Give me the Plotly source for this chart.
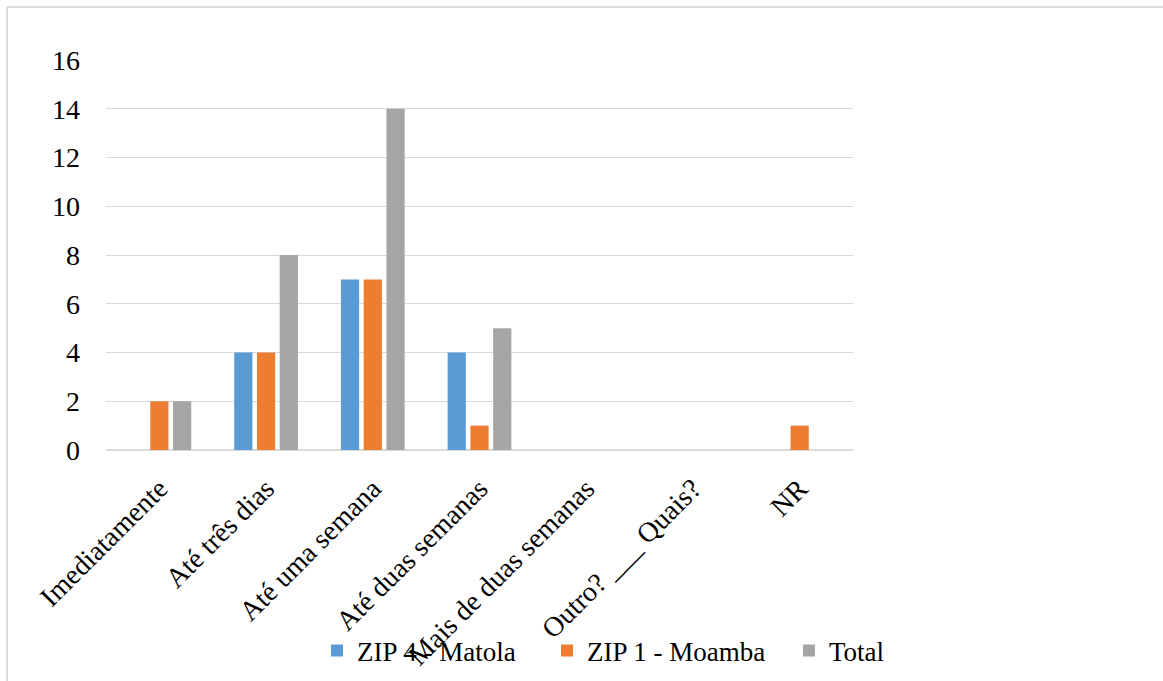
import plotly.graph_objects as go

categories = [
    "Imediatamente",
    "Até três dias",
    "Até uma semana",
    "Até duas semanas",
    "Mais de duas semanas",
    "Outro? ___ Quais?",
    "NR",
]
zip4_matola = [0, 4, 7, 4, 0, 0, 0]
zip1_moamba = [2, 4, 7, 1, 0, 0, 1]
total = [2, 8, 14, 5, 0, 0, 0]
y_ticks = [0, 2, 4, 6, 8, 10, 12, 14, 16]

FONT = "Times New Roman, serif"
W, H = 1163, 681
ML, MR, MT, MB = 106, 310, 60, 231
PW, PH = W - ML - MR, H - MT - MB


def px_x(x):
    return (x - ML) / PW


def px_y(y):
    return (H - MB - y) / PH


fig = go.Figure()
# name, values, colour, legend id, legend left edge (px)
series = [
    ("ZIP 4 - Matola", zip4_matola, "#5B9BD5", "legend", 317),
    ("ZIP 1 - Moamba", zip1_moamba, "#ED7D31", "legend2", 547),
    ("Total", total, "#A5A5A5", "legend3", 789),
]
legends = {}
for name, vals, color, leg, lx in series:
    fig.add_trace(go.Bar(
        x=categories, y=vals, name=name, legend=leg,
        marker=dict(color=color, line=dict(width=0)),
    ))
    legends[leg] = dict(
        orientation="h", x=px_x(lx), y=px_y(651),
        xanchor="left", yanchor="middle",
        font=dict(family=FONT, size=27, color="#000000"),
        itemwidth=30, bgcolor="rgba(0,0,0,0)",
    )

fig.update_layout(
    width=W, height=H,
    margin=dict(l=ML, r=MR, t=MT, b=MB, autoexpand=False),
    paper_bgcolor="white", plot_bgcolor="white",
    barmode="group", bargap=0.36, bargroupgap=0.2,
    font=dict(family=FONT, size=28, color="#000000"),
    showlegend=True,
    xaxis=dict(
        tickangle=-45, showgrid=False, showline=True,
        linecolor="#d9d9d9", linewidth=1, ticks="",
        ticklabelstandoff=10, automargin=False,
        tickfont=dict(family=FONT, size=28),
    ),
    yaxis=dict(
        range=[0, 16], tickvals=y_ticks, showgrid=True,
        gridcolor="#d9d9d9", gridwidth=1, zeroline=True,
        zerolinecolor="#d9d9d9", showline=False, ticks="",
        ticklabelstandoff=25, automargin=False,
        tickfont=dict(family=FONT, size=28),
    ),
    shapes=[
        dict(type="line", xref="paper", yref="paper",
             x0=px_x(7), x1=px_x(7), y0=px_y(7), y1=px_y(H + 5),
             line=dict(color="#cfcfcf", width=1.5)),
        dict(type="line", xref="paper", yref="paper",
             x0=px_x(7), x1=px_x(W + 5), y0=px_y(7), y1=px_y(7),
             line=dict(color="#cfcfcf", width=1.5)),
    ],
    **legends,
)

fig.write_html("out.html")
